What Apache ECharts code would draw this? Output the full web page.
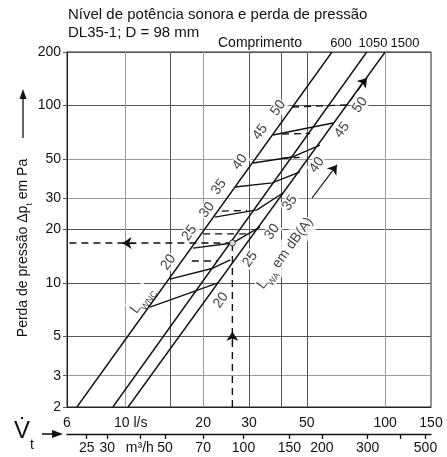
<!DOCTYPE html>
<html lang="pt">
<head>
<meta charset="UTF-8">
<title>DL35-1</title>
<script src="https://cdn.jsdelivr.net/npm/echarts@6/dist/echarts.min.js"></script>
<style>
  html, body { margin: 0; padding: 0; background: #fff; }
  #main { width: 447px; height: 457px; }
</style>
</head>
<body>
<div id="main"></div>
<script>
var yTicks = [2, 3, 5, 10, 20, 30, 50, 100, 200];
var lsLabels = [6, 10, 20, 30, 50, 100, 150];
var lsGrid = [10, 15, 20, 30, 40, 50, 100];
var m3hTicks = [25, 30, 40, 50, 70, 100, 150, 200, 300, 400, 500];
var m3hLabels = [25, 30, 40, 50, 70, 100, 150, 200, 300, 500];

var comprimentos = ['600', '1050', '1500'];
var linha600 = [[6.55, 2], [62.5, 200]];
var linha1050 = [[9.0, 2], [85, 200]];
var linha1500 = [[10.3, 2], [100, 200]];

var niveis = ['20', '25', '30', '35', '40', '45', '50'];
var posWNC = [[14.7, 13.1], [17.7, 19.1], [20.7, 25.8], [23.0, 34.7], [27.7, 48.0], [33.1, 70.9], [38.8, 96.7]];
var posWA = [[23.4, 8.0], [30.3, 13.6], [36.8, 19.4], [43.1, 28.2], [54.7, 46.2], [68.3, 72.7], [80.1, 100.6]];

// linhas de igual nivel sonoro
var solidas = [
  [[12.5, 7.3], [22.8, 10.0]],
  [[14.9, 10.5], [21.8, 12.1], [25.4, 13.5]],
  [[18.3, 15.7], [26.0, 16.8], [33.1, 20.7]],
  [[22.2, 23.5], [32.2, 25.8], [40.5, 32.1]],
  [[26.5, 34.7], [36.8, 36.6], [47.1, 42.2]],
  [[31.1, 47.4], [43.9, 51.2], [56.2, 59.8]],
  [[37.1, 68.1], [52.8, 75.6], [63.1, 79.6]]
];
var tracejadas = [
  [[18.1, 13.3], [22.6, 13.3]],
  [[20.0, 18.9], [29.5, 18.9]],
  [[23.6, 25.4], [29.5, 25.6]],
  [[40.0, 50.3], [47.0, 51.0]],
  [[40.2, 69.0], [51.5, 69.5]],
  [[43.9, 98.0], [71.4, 100.6], [84.0, 140.0]]
];

// exemplo de leitura
var exVazao = 25.9;
var exPressao = 16.8;

var fonte = '"Liberation Sans", Arial, Helvetica, sans-serif';
var escuro = '#555';
var claro = '#9a9a9a';

function linha(pts, tracejada, largura) {
  return {
    type: 'line', data: pts, symbol: 'none', silent: true, z: 3,
    lineStyle: { color: '#111', width: largura || 1.4, type: tracejada ? [7, 5] : 'solid' }
  };
}

var series = [];

// rotulos dos niveis (antes das linhas para ficarem por baixo)
series.push({
  type: 'scatter', symbolSize: 1, silent: true, itemStyle: { color: 'transparent' },
  data: niveis.map(function (n, i) { return { name: n, value: posWNC[i] }; }),
  label: { show: true, position: 'inside', formatter: '{b}', rotate: 54, fontSize: 14, color: '#111', backgroundColor: '#fff', padding: [0, 1] }
});
series.push({
  type: 'scatter', symbolSize: 1, silent: true, itemStyle: { color: 'transparent' },
  data: niveis.map(function (n, i) { return { name: n, value: posWA[i] }; }),
  label: { show: true, position: 'inside', formatter: '{b}', rotate: 54, fontSize: 14, color: '#111', backgroundColor: '#fff', padding: [0, 1] }
});
series.push({
  type: 'scatter', symbolSize: 1, silent: true, itemStyle: { color: 'transparent' },
  data: [{ name: 'wnc', value: [11.65, 8.0] }],
  label: {
    show: true, position: 'inside', rotate: 54, backgroundColor: '#fff',
    formatter: '{l|L}{s|WNC}',
    rich: {
      l: { fontSize: 14, color: '#111', lineHeight: 22, verticalAlign: 'middle' },
      s: { fontSize: 9, color: '#111', lineHeight: 12, verticalAlign: 'bottom' }
    }
  }
});
series.push({
  type: 'scatter', symbolSize: 1, silent: true, itemStyle: { color: 'transparent' },
  data: [{ name: 'wa', value: [41.3, 14.7] }],
  label: {
    show: true, position: 'inside', rotate: 54, backgroundColor: '#fff',
    formatter: '{l|L}{s|WA}{l| em dB(A)}',
    rich: {
      l: { fontSize: 14, color: '#111', lineHeight: 22, verticalAlign: 'middle' },
      s: { fontSize: 9, color: '#111', lineHeight: 12, verticalAlign: 'bottom' }
    }
  }
});

// comprimentos 600 / 1050 / 1500
[linha600, linha1050, linha1500].forEach(function (l) { series.push(linha(l, false, 1.4)); });
solidas.forEach(function (l) { series.push(linha(l, false)); });
tracejadas.forEach(function (l) { series.push(linha(l, true)); });

// exemplo: subida a partir da vazao e leitura da perda de pressao
var exV = linha([[exVazao, 2], [exVazao, exPressao]], true);
exV.markLine = {
  silent: true, symbol: ['none', 'arrow'], symbolSize: 9, label: { show: false },
  lineStyle: { color: '#111', type: 'solid', width: 1.2 },
  data: [
    [{ coord: [exVazao, 4.5] }, { coord: [exVazao, 5.3] }],
    [{ coord: [11.0, exPressao] }, { coord: [9.8, exPressao] }],
    [{ coord: [52.4, 30.1] }, { coord: [65.3, 46.2] }],
    [{ coord: [80.0, 128] }, { coord: [85.2, 142.7] }]
  ]
};
series.push(exV);
series.push(linha([[exVazao, exPressao], [6, exPressao]], true));
series.push({
  type: 'scatter', silent: true, z: 5, symbolSize: 6,
  data: [[exVazao, exPressao]],
  itemStyle: { color: '#fff', borderColor: '#111', borderWidth: 1 }
});

var graficos = [
  { type: 'text', x: 68, y: 15, style: { text: 'Nível de potência sonora e perda de pressão', font: '15px ' + fonte, fill: '#111', verticalAlign: 'middle' } },
  { type: 'text', x: 68, y: 33, style: { text: 'DL35-1; D = 98 mm', font: '15px ' + fonte, fill: '#111', verticalAlign: 'middle' } },
  { type: 'text', x: 260, y: 43, style: { text: 'Comprimento', font: '14px ' + fonte, fill: '#111', align: 'center', verticalAlign: 'middle' } },
  {
    type: 'text', x: 23, y: 248, rotation: Math.PI / 2,
    style: {
      text: '{n|Perda de pressão Δp}{s|t}{n| em Pa}', align: 'center', verticalAlign: 'middle',
      rich: {
        n: { font: '14px ' + fonte, fill: '#111', lineHeight: 22, verticalAlign: 'middle' },
        s: { font: '9px ' + fonte, fill: '#111', lineHeight: 12, verticalAlign: 'bottom' }
      }
    }
  },
  { type: 'line', shape: { x1: 23, y1: 138, x2: 23, y2: 97 }, style: { stroke: '#111', lineWidth: 1.3 } },
  { type: 'polygon', shape: { points: [[23, 89], [19.5, 99], [26.5, 99]] }, style: { fill: '#111' } },
  { type: 'text', x: 22, y: 431, style: { text: 'V̇', font: '24px ' + fonte, fill: '#111', align: 'center', verticalAlign: 'middle' } },
  { type: 'text', x: 30, y: 445, style: { text: 't', font: '14px ' + fonte, fill: '#111', verticalAlign: 'middle' } },
  { type: 'line', shape: { x1: 42, y1: 434, x2: 55, y2: 434 }, style: { stroke: '#111', lineWidth: 1.5 } },
  { type: 'polygon', shape: { points: [[63, 434], [52, 430], [52, 438]] }, style: { fill: '#111' } }
];
var posComp = [341, 373, 405];
comprimentos.forEach(function (c, i) {
  graficos.push({ type: 'text', x: posComp[i], y: 43, style: { text: c, font: '13px ' + fonte, fill: '#111', align: 'center', verticalAlign: 'middle' } });
});

var myChart = echarts.init(document.getElementById('main'));
var option = {
  animation: false,
  backgroundColor: '#fff',
  textStyle: { fontFamily: fonte },
  grid: { left: 67, right: 16, top: 52, bottom: 50, show: true, borderColor: '#222', borderWidth: 1, backgroundColor: '#fff' },
  xAxis: [{
    type: 'log', logBase: 10, min: 6, max: 150,
    axisLine: { show: true, lineStyle: { color: '#222' } },
    axisTick: { show: false, customValues: lsGrid },
    axisLabel: {
      customValues: lsLabels, fontSize: 14, color: '#111', margin: 9,
      formatter: function (v) { return v === 10 ? '{a|10 l/s}' : String(v); },
      rich: { a: { fontSize: 14, color: '#111', padding: [0, 0, 0, 12] } }
    },
    splitLine: { show: true, lineStyle: { color: [claro, escuro, claro, escuro, escuro, escuro, claro], width: 1 } }
  }, {
    type: 'log', logBase: 10, min: 21, max: 525, position: 'bottom', offset: 27,
    axisLine: { show: true, lineStyle: { color: '#111', width: 1.3 } },
    axisTick: { show: true, length: 5, customValues: m3hTicks, lineStyle: { color: '#111', width: 1.3 } },
    axisLabel: {
      customValues: m3hLabels, fontSize: 14, color: '#111', margin: 7,
      formatter: function (v) { return v === 40 ? 'm³/h' : String(v); }
    },
    splitLine: { show: false }
  }],
  yAxis: {
    type: 'log', logBase: 10, min: 2, max: 200,
    axisLine: { show: true, lineStyle: { color: '#222' } },
    axisTick: { show: true, length: 4, customValues: yTicks, lineStyle: { color: '#555' } },
    axisLabel: { customValues: yTicks, fontSize: 14, color: '#111', margin: 6 },
    splitLine: { show: true, lineStyle: { color: [escuro, claro, escuro, escuro, escuro, claro, claro, escuro, escuro], width: 1 } }
  },
  graphic: graficos,
  series: series
};
myChart.setOption(option);
</script>
</body>
</html>
